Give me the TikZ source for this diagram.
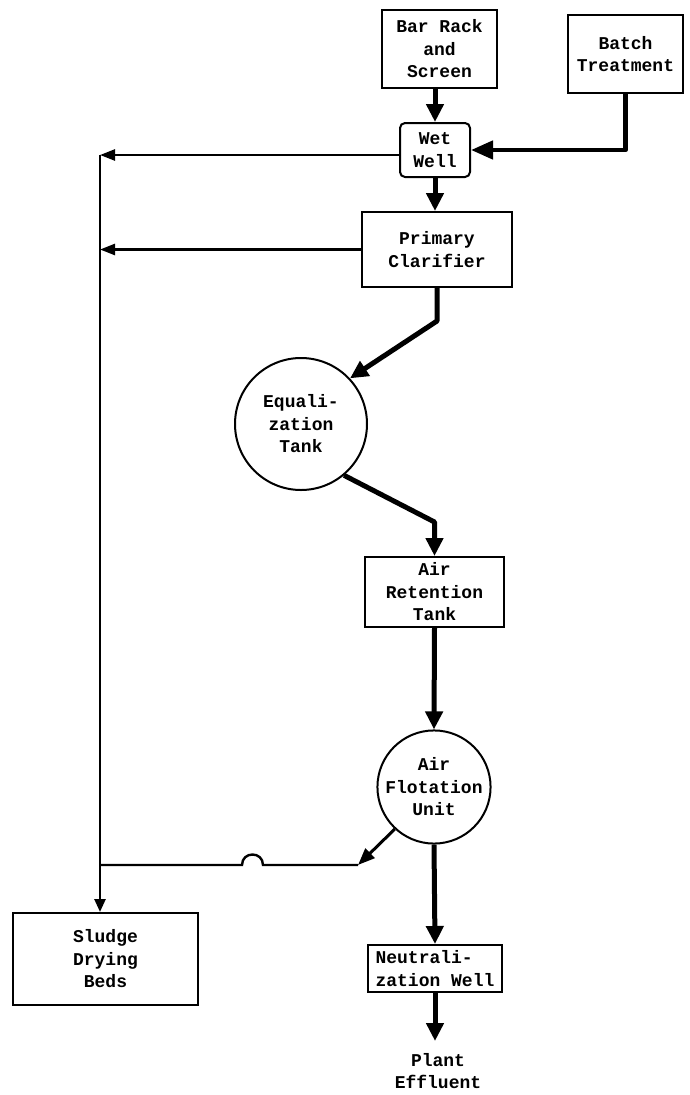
\documentclass[tikz,border=0pt]{standalone}
\usepackage{fontspec}
\setmonofont{Liberation Mono}
\usetikzlibrary{arrows.meta,calc}
\begin{document}
\begin{tikzpicture}[x=1pt,y=-1pt,
  every node/.style={font=\fontsize{18}{22.5}\selectfont\ttfamily\bfseries, align=center, inner sep=0pt},
  box/.style={draw, line width=2pt, rectangle},
  circ/.style={draw, line width=2pt, circle},
  flow/.style={line width=5pt, line join=round, -{Triangle[length=18pt,width=17pt]}},
  batchflow/.style={line width=4.5pt, line join=round, -{Triangle[length=22pt,width=18pt]}},
  sludgeflow/.style={line width=2.4pt, -{Triangle[length=15pt,width=11pt]}},
  busflow/.style={line width=2.6pt, -{Triangle[length=13pt,width=11pt]}},
  skimflow/.style={line width=3pt, -{Triangle[length=17pt,width=13pt]}},
  plainline/.style={line width=2.4pt}]
\useasboundingbox (0,0) rectangle (689,1095);

% nodes
\node[box, minimum width=115pt, minimum height=78pt] (bar) at (439.5,49) {Bar Rack\\and\\Screen};
\node[box, minimum width=115pt, minimum height=78pt] (batch) at (625.5,54) {Batch\\Treatment};
\node[box, rounded corners=5pt, minimum width=70pt, minimum height=54pt] (wet) at (435,150) {Wet\\Well};
\node[box, minimum width=150pt, minimum height=75pt] (prim) at (437,249.5) {Primary\\Clarifier};
\node[circ, minimum size=132pt] (eq) at (301,424) {Equali-\\zation\\Tank};
\node[box, minimum width=139pt, minimum height=70pt] (ar) at (434.5,592) {Air\\Retention\\Tank};
\node[circ, minimum size=112pt] (afu) at (434,787) {Air\\Flotation\\Unit};
\node[box, minimum width=134pt, minimum height=47pt, align=left] (neut) at (435,968.5) {Neutrali-\\zation Well};
\node[box, minimum width=185pt, minimum height=92pt] (sludge) at (105.5,959) {Sludge\\Drying\\Beds};
\node (eff) at (438,1071) {Plant\\Effluent};

\coordinate (bustop) at (100,155);
\coordinate (j) at (358,865);
\coordinate (outl) at ($(neut.south)+(0,48)$);

% main flow
\draw[flow] (wet.north |- bar.south) -- (wet.north);
\draw[batchflow] (batch.south) |- (wet.east);
\draw[flow] (wet.south) -- (wet.south |- prim.north);
\draw[flow] (prim.south) -- ($(prim.south)+(0,33)$) -- (eq.43);
\draw[flow] (eq.-50) -- ($(ar.north)+(0,-34)$) -- (ar.north);
\draw[flow] (ar.south) -- (afu.north);
\draw[flow] (afu.south) -- (neut.north);
\draw[flow] (neut.south) -- (outl);

% sludge lines
\draw[sludgeflow] ([yshift=-5pt]wet.west) -- (bustop);
\draw[sludgeflow] (prim.west) -- (prim.west -| bustop);
\draw[busflow] (bustop) -- (bustop |- sludge.north);
\draw[skimflow] (afu.-133) -- (j);
\draw[plainline] (j) -- ++(-95,0) .. controls +(0,-14) and +(0,-14) .. ++(-21,0) -- (j -| bustop);
\end{tikzpicture}
\end{document}
